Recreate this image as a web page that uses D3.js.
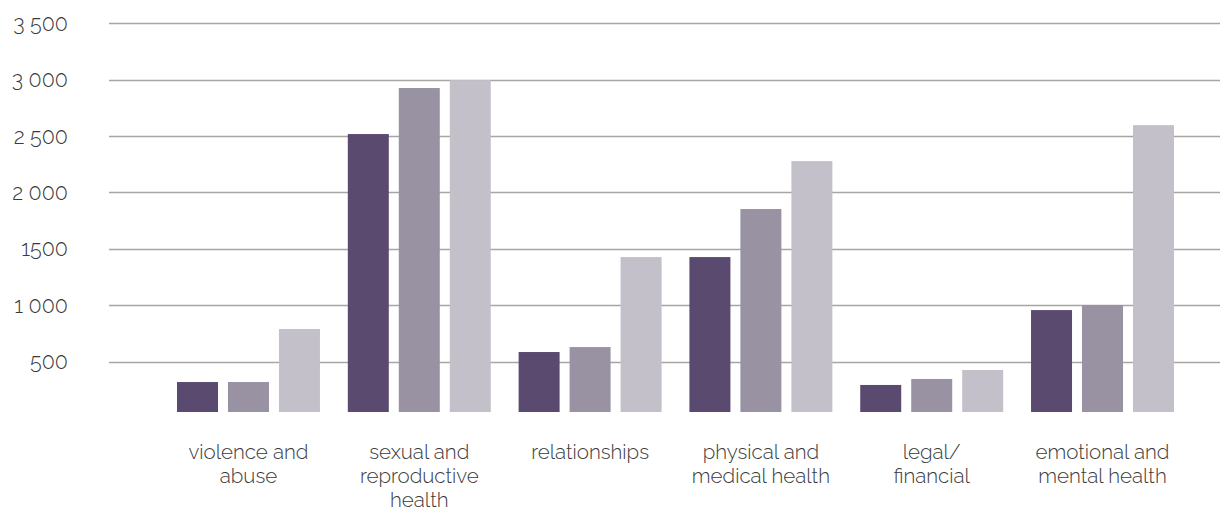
<!DOCTYPE html>
<html>
<head>
<meta charset="utf-8">
<script src="https://cdn.jsdelivr.net/npm/d3@7"></script>
<style>
  html, body { margin: 0; padding: 0; background: #fff; }
  svg { display: block; }
  text { font-family: Raleway, Lato, "Open Sans", sans-serif; font-weight: 300; fill: #3a3a3a; }
</style>
</head>
<body>
<svg id="chart" width="1220" height="508"></svg>
<script>
const categories = [
  ["violence and", "abuse"],
  ["sexual and", "reproductive", "health"],
  ["relationships"],
  ["physical and", "medical health"],
  ["legal/", "financial"],
  ["emotional and", "mental health"]
];
const seriesNames = ["s1", "s2", "s3"];
const series1 = [319, 2518, 585, 1427, 293, 957];
const series2 = [319, 2926, 629, 1853, 346, 1002];
const series3 = [789, 2996, 1427, 2278, 426, 2597];
const tickValues = [500, 1000, 1500, 2000, 2500, 3000, 3500];
const tickLabels = ["500", "1 000", "1500", "2 000", "2 500", "3 000", "3 500"];
const colors = ["#5a4a70", "#9892a3", "#c3c0ca"];

const svg = d3.select("#chart");
const y = d3.scaleLinear().domain([0, 3500]).range([418, 23.3]);
const baseY = y(0) - 6;

const x0 = d3.scaleBand().domain(d3.range(categories.length)).range([177, 1174]).paddingInner(0.163).paddingOuter(0);
const x1 = d3.scaleBand().domain(seriesNames).range([0, x0.bandwidth()]).paddingInner(0.196).paddingOuter(0);

// gridlines
const grid = svg.append("g");
grid.selectAll("line").data(tickValues).join("line")
  .attr("x1", 109).attr("x2", 1220)
  .attr("y1", d => Math.round(y(d)) + 0.5).attr("y2", d => Math.round(y(d)) + 0.5)
  .attr("stroke", "#a9a5a5").attr("stroke-width", 1.6);

// y labels
svg.append("g").selectAll("text").data(tickValues).join("text")
  .attr("x", 68).attr("y", d => y(d))
  .attr("dy", "0.35em")
  .attr("text-anchor", "end")
  .attr("font-size", 21.5)
  .text((d, i) => tickLabels[i]);

// bars
const all = [series1, series2, series3];
const g = svg.append("g");
categories.forEach((c, i) => {
  g.selectAll(null).data(seriesNames).join("rect")
    .attr("x", s => x0(i) + x1(s))
    .attr("width", x1.bandwidth())
    .attr("y", (s, k) => y(all[k][i]))
    .attr("height", (s, k) => baseY - y(all[k][i]))
    .attr("fill", (s, k) => colors[k]);
});

// x labels
const xl = svg.append("g");
categories.forEach((lines, i) => {
  const cx = x0(i) + x0.bandwidth() / 2;
  const t = xl.append("text")
    .attr("x", cx)
    .attr("y", 459)
    .attr("text-anchor", "middle")
    .attr("font-size", 20.5);
  lines.forEach((ln, j) => {
    t.append("tspan").attr("x", cx).attr("y", 459 + j * 24).text(ln);
  });
});
</script>
</body>
</html>
